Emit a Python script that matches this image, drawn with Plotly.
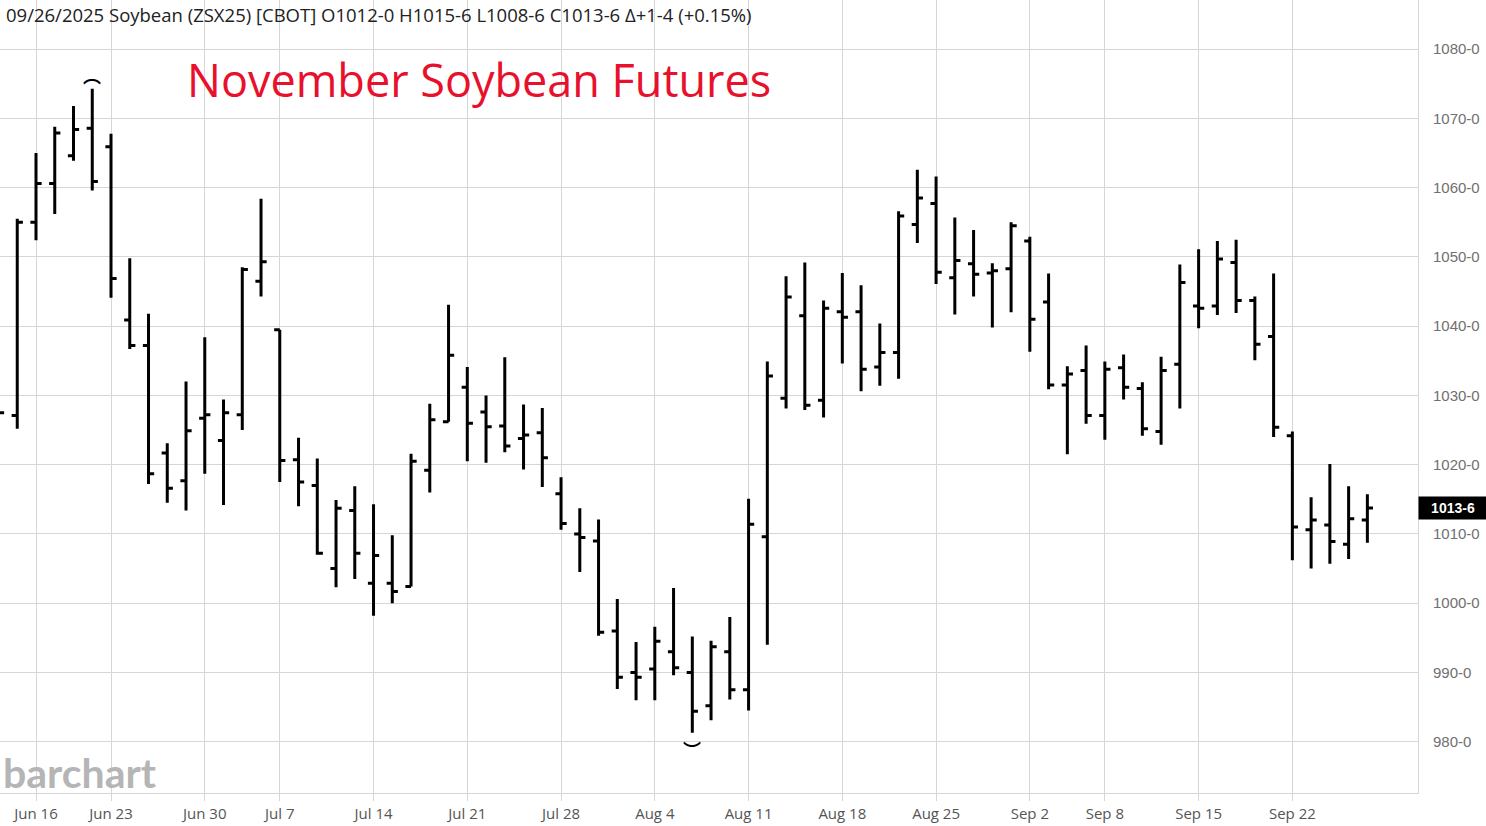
import plotly.graph_objects as go

# Trading days shown on the chart (ZSX25, daily bars)
dates = [
    "2025-06-12", "2025-06-13", "2025-06-16", "2025-06-17", "2025-06-18", "2025-06-20",
    "2025-06-23", "2025-06-24", "2025-06-25", "2025-06-26", "2025-06-27",
    "2025-06-30", "2025-07-01", "2025-07-02", "2025-07-03",
    "2025-07-07", "2025-07-08", "2025-07-09", "2025-07-10", "2025-07-11",
    "2025-07-14", "2025-07-15", "2025-07-16", "2025-07-17", "2025-07-18",
    "2025-07-21", "2025-07-22", "2025-07-23", "2025-07-24", "2025-07-25",
    "2025-07-28", "2025-07-29", "2025-07-30", "2025-07-31", "2025-08-01",
    "2025-08-04", "2025-08-05", "2025-08-06", "2025-08-07", "2025-08-08",
    "2025-08-11", "2025-08-12", "2025-08-13", "2025-08-14", "2025-08-15",
    "2025-08-18", "2025-08-19", "2025-08-20", "2025-08-21", "2025-08-22",
    "2025-08-25", "2025-08-26", "2025-08-27", "2025-08-28", "2025-08-29",
    "2025-09-02", "2025-09-03", "2025-09-04", "2025-09-05",
    "2025-09-08", "2025-09-09", "2025-09-10", "2025-09-11", "2025-09-12",
    "2025-09-15", "2025-09-16", "2025-09-17", "2025-09-18", "2025-09-19",
    "2025-09-22", "2025-09-23", "2025-09-24", "2025-09-25", "2025-09-26",
]

opens = [
    1033.0, 1027.1, 1055.0, 1060.6, 1064.6, 1068.6,
    1065.9, 1040.9, 1037.2, 1021.7, 1017.7,
    1026.7, 1023.5, 1027.2, 1046.5,
    1039.5, 1020.7, 1017.0, 1005.0, 1013.4,
    1002.9, 1002.9, 1002.4, 1019.2, 1026.2,
    1031.2, 1027.6, 1025.6, 1023.8, 1024.6,
    1015.8, 1010.0, 1009.0, 996.0, 990.0,
    990.5, 993.0, 990.0, 985.2, 993.0,
    987.5, 1009.6, 1029.6, 1041.5, 1029.3,
    1042.1, 1042.1, 1034.1, 1036.2, 1054.7,
    1057.7, 1047.0, 1049.0, 1047.7, 1048.3,
    1052.3, 1043.5, 1031.5, 1033.6,
    1027.1, 1034.0, 1031.0, 1024.8, 1034.5,
    1042.9, 1042.9, 1049.2, 1043.7, 1038.5,
    1024.2, 1010.6, 1011.3, 1008.5, 1012.0,
]
highs = [
    1038.2, 1055.5, 1065.0, 1068.8, 1071.8, 1074.3,
    1067.8, 1049.8, 1041.8, 1023.1, 1032.0,
    1038.4, 1029.4, 1048.5, 1058.4,
    1039.5, 1023.9, 1020.9, 1014.9, 1016.9,
    1014.3, 1009.8, 1021.6, 1028.8, 1043.1,
    1034.1, 1030.0, 1035.5, 1028.7, 1028.2,
    1018.2, 1013.7, 1012.1, 1000.6, 994.4,
    996.6, 1002.2, 995.2, 994.6, 998.0,
    1015.1, 1034.9, 1047.2, 1049.2, 1043.7,
    1047.7, 1045.9, 1040.4, 1056.6, 1062.6,
    1061.6, 1055.7, 1053.9, 1049.1, 1055.0,
    1052.9, 1047.6, 1034.2, 1037.2,
    1034.9, 1035.9, 1031.9, 1035.6, 1048.9,
    1051.1, 1052.3, 1052.5, 1044.3, 1047.6,
    1024.8, 1015.3, 1020.1, 1016.9, 1015.75,
]
lows = [
    1022.2, 1025.2, 1052.4, 1056.2, 1063.9, 1059.6,
    1044.1, 1036.7, 1017.2, 1014.5, 1013.4,
    1018.7, 1014.2, 1025.0, 1044.3,
    1017.5, 1014.0, 1007.0, 1002.3, 1003.5,
    998.2, 1000.0, 1002.4, 1016.0, 1026.2,
    1020.5, 1020.3, 1021.8, 1019.3, 1016.8,
    1010.6, 1004.5, 995.3, 987.6, 986.0,
    986.0, 989.6, 981.3, 983.1, 986.1,
    984.5, 994.0, 1028.1, 1027.9, 1026.8,
    1034.6, 1030.6, 1031.4, 1032.4, 1052.0,
    1046.1, 1041.7, 1044.3, 1039.8, 1042.0,
    1036.3, 1030.9, 1021.5, 1025.9,
    1023.6, 1029.4, 1024.2, 1022.9, 1028.1,
    1039.7, 1041.6, 1041.9, 1035.1, 1024.0,
    1006.2, 1005.0, 1005.7, 1006.4, 1008.75,
]
closes = [
    1027.5, 1055.0, 1060.6, 1067.9, 1068.4, 1060.9,
    1046.9, 1037.2, 1018.7, 1016.6, 1024.9,
    1027.2, 1027.5, 1048.2, 1049.3,
    1020.6, 1017.5, 1007.2, 1013.7, 1007.2,
    1006.9, 1001.7, 1020.5, 1026.5, 1035.8,
    1026.0, 1025.5, 1022.7, 1024.3, 1021.0,
    1011.5, 1009.5, 995.8, 989.3, 989.3,
    994.5, 990.7, 984.4, 993.7, 987.5,
    1011.4, 1032.8, 1044.2, 1028.6, 1042.6,
    1041.3, 1033.8, 1036.2, 1055.9, 1058.5,
    1047.8, 1049.5, 1047.5, 1048.0, 1054.5,
    1041.0, 1031.5, 1033.1, 1027.1,
    1033.8, 1031.2, 1025.2, 1033.6, 1046.3,
    1042.6, 1049.7, 1043.7, 1037.4, 1025.4,
    1011.0, 1012.0, 1008.9, 1012.2, 1013.75,
]

x_tick_dates = ["2025-06-16", "2025-06-23", "2025-06-30", "2025-07-07", "2025-07-14",
                "2025-07-21", "2025-07-28", "2025-08-04", "2025-08-11", "2025-08-18",
                "2025-08-25", "2025-09-02", "2025-09-08", "2025-09-15", "2025-09-22"]
x_tick_labels = ["Jun 16", "Jun 23", "Jun 30", "Jul 7", "Jul 14", "Jul 21", "Jul 28",
                 "Aug 4", "Aug 11", "Aug 18", "Aug 25", "Sep 2", "Sep 8", "Sep 15", "Sep 22"]
y_ticks = [980, 990, 1000, 1010, 1020, 1030, 1040, 1050, 1060, 1070, 1080]

header = "09/26/2025 Soybean (ZSX25) [CBOT] O1012-0 H1015-6 L1008-6 C1013-6 Δ+1-4 (+0.15%)"
title = "November Soybean Futures"

GRID = "#d6d6d6"
FONT = "Open Sans"
AXIS_FONT = "Liberation Sans"
ARC_FONT = dict(size=18, color="black", family="Noto Sans CJK SC", weight="bold")


def eighths(v):
    whole = int(v)
    return f"{whole}-{round((v - whole) * 8)}"


fig = go.Figure()
fig.add_trace(go.Ohlc(
    x=dates, open=opens, high=highs, low=lows, close=closes,
    increasing=dict(line=dict(color="black", width=3)),
    decreasing=dict(line=dict(color="black", width=3)),
    tickwidth=0.3, showlegend=False, hoverinfo="skip",
))

# high / low markers (small arcs above the top and below the bottom of the range)
hi = highs.index(max(highs))
lo = lows.index(min(lows))

fig.update_layout(
    width=1486, height=826,
    margin=dict(l=0, r=68, t=0, b=33),
    paper_bgcolor="white", plot_bgcolor="white",
    font=dict(family=FONT, color="#555555", size=13),
    xaxis=dict(
        type="category", range=[0.08, 75.7], rangeslider=dict(visible=False),
        tickvals=x_tick_dates, ticktext=x_tick_labels,
        showgrid=True, gridcolor=GRID, gridwidth=1,
        showline=True, linecolor=GRID, ticks="outside", ticklen=7, tickcolor=GRID,
        tickfont=dict(size=15, color="#555555", family=FONT), zeroline=False,
    ),
    yaxis=dict(
        side="right", range=[972.6, 1087.1],
        tickvals=y_ticks, ticktext=[f"{v}-0" for v in y_ticks],
        showgrid=True, gridcolor=GRID, gridwidth=1,
        showline=True, linecolor=GRID, ticks="",
        tickfont=dict(size=15, color="#707070", family=AXIS_FONT), zeroline=False,
        ticklabelstandoff=11,
    ),
    annotations=[
        dict(text=header, xref="paper", yref="paper", x=0, y=1, xanchor="left", yanchor="top",
             xshift=4, yshift=0, showarrow=False, font=dict(size=18.5, color="#222222", family=FONT)),
        dict(text=title, xref="paper", yref="paper", x=479 / 1418, y=1 - 80 / 793,
             xanchor="center", yanchor="middle", showarrow=False,
             font=dict(size=45, color="#e8112d", family=FONT)),
        dict(text="<b>barchart</b>", xref="paper", yref="paper", x=0, y=1 - 772 / 793,
             xanchor="left", yanchor="middle", xshift=1, showarrow=False,
             font=dict(size=41, color="#b5b5b5", family="Lato")),
        dict(text=f"<b>{eighths(closes[-1])}</b>", xref="paper", yref="y", x=1, y=closes[-1],
             xanchor="left", yanchor="middle", showarrow=False, bgcolor="black",
             width=66, height=20, borderpad=1,
             font=dict(size=14, color="white", family=AXIS_FONT)),
        dict(text="︵", x=dates[hi], y=highs[hi], xref="x", yref="y",
             xanchor="center", yanchor="bottom", yshift=-1, showarrow=False, font=ARC_FONT),
        dict(text="︶", x=dates[lo], y=lows[lo], xref="x", yref="y",
             xanchor="center", yanchor="top", yshift=-1, showarrow=False, font=ARC_FONT),
    ],
)

fig.write_html("out.html", config={"displayModeBar": False},
               post_script="document.body.style.margin='0';")
